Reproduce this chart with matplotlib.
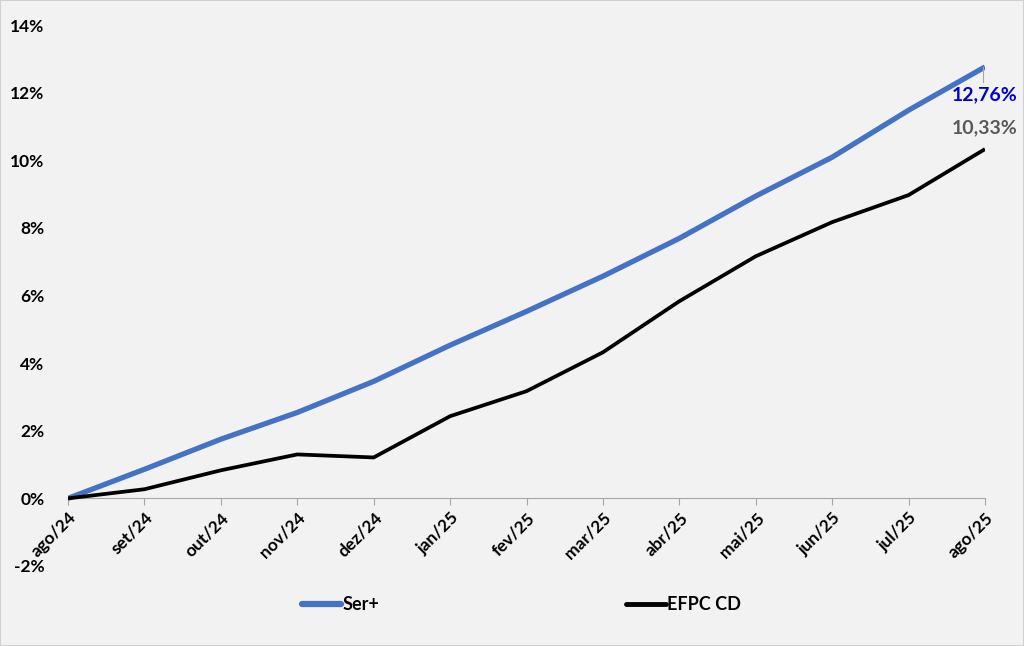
import matplotlib
matplotlib.use("Agg")
import matplotlib.pyplot as plt
from matplotlib.lines import Line2D
from matplotlib.patches import Rectangle

months = ["ago/24", "set/24", "out/24", "nov/24", "dez/24", "jan/25", "fev/25",
          "mar/25", "abr/25", "mai/25", "jun/25", "jul/25", "ago/25"]
ser_plus = [0.0, 0.86, 1.75, 2.54, 3.46, 4.53, 5.53, 6.57, 7.69, 8.94, 10.09, 11.48, 12.76]
efpc_cd = [0.0, 0.27, 0.83, 1.30, 1.21, 2.43, 3.17, 4.32, 5.83, 7.16, 8.17, 8.97, 10.33]
yticks = [-2, 0, 2, 4, 6, 8, 10, 12, 14]

plt.rcParams['font.family'] = ['Lato', 'DejaVu Sans']
bg = "#F2F2F2"
fig = plt.figure(figsize=(10.24, 6.46), dpi=100, facecolor=bg)
fig.patches.append(Rectangle((0, 0), 1, 1, transform=fig.transFigure, fill=False,
                             edgecolor="#D0D0D0", linewidth=1.5))
ax = fig.add_axes([68/1024, 80/646, (985-68)/1024, (566-25)/646])
ax.set_facecolor(bg)

x = list(range(len(months)))
ax.plot(x, ser_plus, color="#4472C4", lw=3.8, solid_capstyle='butt', label="Ser+", zorder=3)
ax.plot(x, efpc_cd, color="#000000", lw=2.7, solid_capstyle='butt', label="EFPC CD", zorder=3)

ax.set_xlim(0, len(months) - 1)
ax.set_ylim(-2, 14)
ax.set_yticks(yticks)
ax.set_yticklabels([f"{v}%" for v in yticks], fontsize=12.5, fontweight='bold')
for s in ["top", "right", "left"]:
    ax.spines[s].set_visible(False)
ax.spines["bottom"].set_position(("data", 0))
ax.spines["bottom"].set_color("#A6A6A6")
ax.tick_params(axis='y', length=0, pad=17)
ax.tick_params(axis='x', length=5, color="#A6A6A6", direction='out', pad=3)
ax.set_xticks(x)
ax.set_xticklabels(months, fontsize=12.5, fontweight='bold', rotation=45,
                   ha='right', va='top', rotation_mode='anchor')

# data labels
ax.plot([11.97, 11.97], [12.76, 12.3], color="#A6A6A6", lw=0.8, zorder=4)
ax.text(12.42, 11.95, "12,76%", color="#0000CC", fontsize=14, fontweight='bold',
        ha='right', va='center')
ax.text(12.42, 10.95, "10,33%", color="#595959", fontsize=14, fontweight='bold',
        ha='right', va='center')

handles = [Line2D([0], [0], color="#4472C4", lw=4.5, solid_capstyle='round'),
           Line2D([0], [0], color="#000000", lw=3.5, solid_capstyle='round')]
leg = fig.legend(handles, ["Ser+", "EFPC CD"], loc='center', bbox_to_anchor=(0.509, 0.064),
                 ncol=2, frameon=False, columnspacing=13.7, handlelength=2.2,
                 handletextpad=0.05, prop={'size': 13, 'weight': 'bold'})

fig.savefig("out.png", dpi=100, facecolor=bg)
